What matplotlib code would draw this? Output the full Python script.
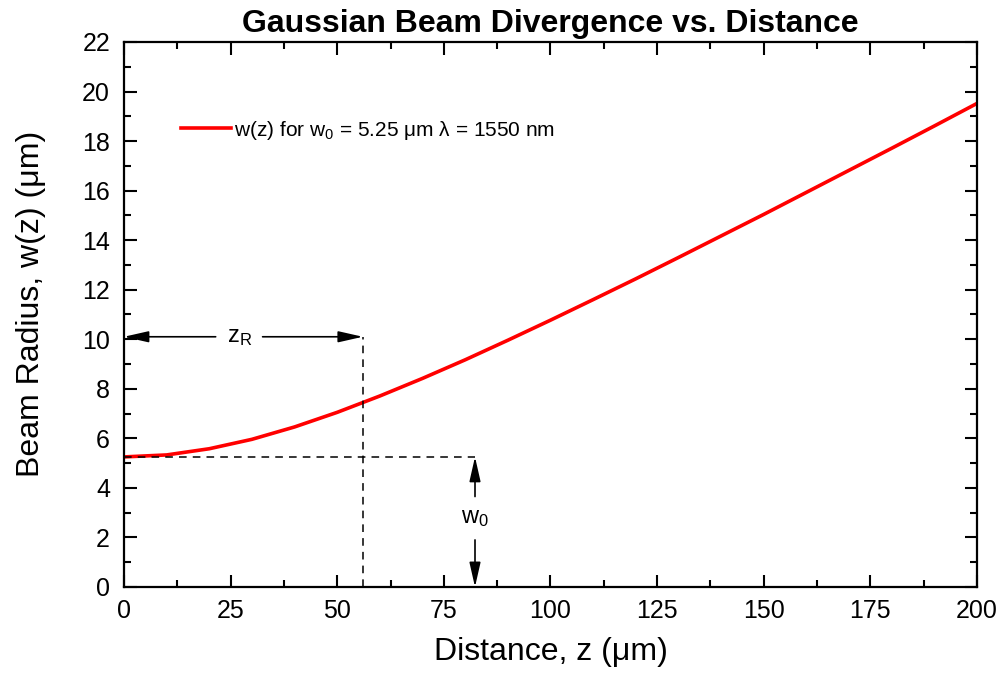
import matplotlib.pyplot as plt
from matplotlib.ticker import MultipleLocator

plt.rcParams['font.family'] = ['Liberation Sans', 'DejaVu Sans']
plt.rcParams['mathtext.fontset'] = 'custom'
plt.rcParams['mathtext.rm'] = 'Liberation Sans'
plt.rcParams['mathtext.it'] = 'Liberation Sans'

# beam radius (um), every 10 um
z_vals = [0, 10, 20, 30, 40, 50, 60, 70, 80, 90, 100,
          110, 120, 130, 140, 150, 160, 170, 180, 190, 200]
w_vals = [5.25, 5.33, 5.58, 5.96, 6.46, 7.05, 7.71, 8.42, 9.17, 9.96, 10.77,
          11.60, 12.44, 13.30, 14.17, 15.04, 15.93, 16.82, 17.71, 18.61, 19.52]

w0 = 5.25          # waist
z_r = 56.0         # Rayleigh range marker
z_r_level = 10.1   # height of the z_R arrow
w0_x = 82.3        # x of the w0 arrow

fig = plt.figure(figsize=(10.03, 6.87), dpi=100)
ax = fig.add_axes([0.1236, 0.1456, 0.8505, 0.7933])

ax.plot(z_vals, w_vals, color='red', lw=2.6,
        label='w(z) for w$_0$ = 5.25 μm λ = 1550 nm')

# dashed guide lines
ax.plot([z_r, z_r], [0, z_r_level], color='black', ls='--', lw=1.1, dashes=(5, 4))
ax.plot([0, w0_x], [w0, w0], color='black', ls='--', lw=1.1, dashes=(5, 4))

# z_R double arrow (split around the label)
arr = dict(arrowstyle='-|>,head_length=0.75,head_width=0.17', color='black',
           lw=1.2, mutation_scale=20, shrinkA=0, shrinkB=0)
ax.annotate('', xy=(0, z_r_level), xytext=(21.5, z_r_level), arrowprops=arr)
ax.annotate('', xy=(z_r, z_r_level), xytext=(32.5, z_r_level), arrowprops=arr)
ax.text(27.0, z_r_level, 'z$_\\mathrm{R}$', fontsize=17, ha='center', va='center')

# w0 double arrow
ax.annotate('', xy=(w0_x, w0), xytext=(w0_x, 3.65), arrowprops=arr)
ax.annotate('', xy=(w0_x, 0), xytext=(w0_x, 1.9), arrowprops=arr)
ax.text(w0_x, 2.8, 'w$_0$', fontsize=17, ha='center', va='center')

ax.set_xlim(0, 200)
ax.set_ylim(0, 22)
ax.xaxis.set_major_locator(MultipleLocator(25))
ax.xaxis.set_minor_locator(MultipleLocator(12.5))
ax.yaxis.set_major_locator(MultipleLocator(2))
ax.yaxis.set_minor_locator(MultipleLocator(1))
ax.tick_params(which='both', direction='in', top=True, right=True, width=1.5)
ax.tick_params(which='major', length=9, labelsize=18)
ax.tick_params(axis='y', pad=10)
ax.tick_params(axis='x', pad=9)
ax.tick_params(which='minor', length=5)
for s in ax.spines.values():
    s.set_linewidth(1.6)

ax.set_title('Gaussian Beam Divergence vs. Distance', fontsize=23,
             fontweight='bold', pad=7)
ax.set_xlabel('Distance, z (μm)', fontsize=23, labelpad=10)
ax.set_ylabel('Beam Radius, w(z) (μm)', fontsize=23, labelpad=26, y=0.52)

ax.legend(loc='center left', bbox_to_anchor=(0.0445, 0.838), frameon=False,
          fontsize=15, handlelength=2.4, handletextpad=0.15)

fig.savefig('out.png', dpi=100)
